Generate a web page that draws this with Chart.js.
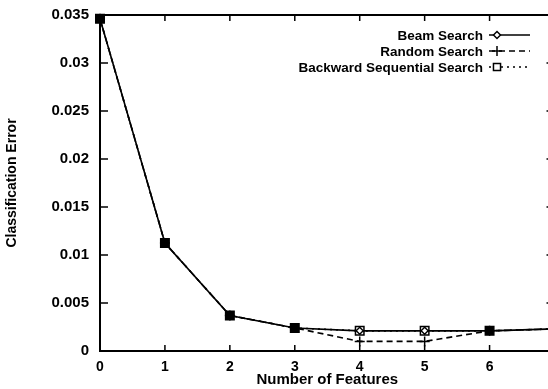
<!DOCTYPE html>
<html>
<head>
<meta charset="utf-8">
<script src="https://cdn.jsdelivr.net/npm/chart.js@4"></script>
<style>
  html, body { margin: 0; padding: 0; background: #fff; overflow: hidden; }
  body { width: 548px; height: 389px; }
  #wrap { width: 562px; height: 389px; }
</style>
</head>
<body>
<div id="wrap"><canvas id="errChart" width="562" height="389"></canvas></div>
<script>
const features = [0, 1, 2, 3, 4, 5, 6, 7];
const beamErr = [0.0346, 0.01125, 0.0037, 0.0024, 0.0021, 0.0021, 0.0021, 0.0023];
const randomErr = [0.0346, 0.01125, 0.0037, 0.0024, 0.0010, 0.0010, 0.0021, 0.0023];
const backwardErr = [0.0346, 0.01125, 0.0037, 0.0024, 0.0021, 0.0021, 0.0021, 0.0023];
const seriesNames = ['Beam Search', 'Random Search', 'Backward Sequential Search'];

const FONT = 'Liberation Sans, Arial, Helvetica, sans-serif';

function pts(values) {
    return features.map((f, i) => ({ x: f, y: values[i] }));
}

// where all three searches agree the markers pile up into a solid block
const pileFill = ctx => (randomErr[ctx.dataIndex] === backwardErr[ctx.dataIndex] ? '#000' : '#fff');

// fixed axis sizes, and no extra room kept for the end labels
function pinScale(size) {
    return s => {
        if (s.isHorizontal()) s.height = size; else s.width = size;
        s.paddingTop = s.paddingBottom = s.paddingLeft = s.paddingRight = 0;
    };
}

// gnuplot style: ticks point inward on all four sides, plus the frame
const frameTicks = {
    id: 'frameTicks',
    afterDraw(chart) {
        const { ctx, chartArea: a, scales } = chart;
        const len = 6;
        ctx.save();
        ctx.strokeStyle = '#000';
        ctx.lineWidth = 2;
        ctx.strokeRect(a.left, a.top, a.right - a.left, a.bottom - a.top);
        ctx.lineWidth = 1.5;
        ctx.beginPath();
        scales.x.ticks.forEach(t => {
            const px = scales.x.getPixelForValue(t.value);
            ctx.moveTo(px, a.bottom); ctx.lineTo(px, a.bottom - len);
            ctx.moveTo(px, a.top); ctx.lineTo(px, a.top + len);
        });
        scales.y.ticks.forEach(t => {
            const py = scales.y.getPixelForValue(t.value);
            ctx.moveTo(a.left, py); ctx.lineTo(a.left + len + 2, py);
            ctx.moveTo(a.right, py); ctx.lineTo(a.right - len - 2, py);
        });
        ctx.stroke();
        ctx.restore();
    }
};

// key in the top right corner, text right aligned with a line sample after it
const gnuKey = {
    id: 'gnuKey',
    afterDraw(chart) {
        const { ctx } = chart;
        const textRight = 483, x0 = 489, x1 = 530, mx = 497;
        const rows = [35, 51, 67];
        ctx.save();
        ctx.font = 'bold 13.5px ' + FONT;
        ctx.textAlign = 'right';
        ctx.textBaseline = 'middle';
        chart.data.datasets.forEach((ds, i) => {
            const y = rows[i];
            ctx.fillStyle = '#000';
            ctx.fillText(seriesNames[i], textRight, y + 1);
            ctx.strokeStyle = '#000';
            ctx.lineWidth = 1.5;
            ctx.setLineDash(ds.borderDash || []);
            ctx.beginPath();
            ctx.moveTo(x0, y); ctx.lineTo(x1, y);
            ctx.stroke();
            ctx.setLineDash([]);
            const r = ds.pointStyle === 'rect' ? 5 : ds.pointRadius;
            ctx.fillStyle = '#fff';
            Chart.helpers.drawPoint(ctx, { pointStyle: ds.pointStyle, radius: r, borderWidth: 1.5 }, mx, y);
        });
        ctx.restore();
    }
};

new Chart(document.getElementById('errChart'), {
    type: 'line',
    plugins: [frameTicks, gnuKey],
    data: {
        datasets: [
            {
                label: seriesNames[0],
                data: pts(beamErr),
                borderColor: '#000',
                borderWidth: 1.6,
                pointStyle: 'rectRot',
                pointRadius: 3.5,
                pointBorderWidth: 1.4,
                pointBorderColor: '#000',
                pointBackgroundColor: pileFill,
                order: 0,
                clip: false
            },
            {
                label: seriesNames[1],
                data: pts(randomErr),
                borderColor: '#000',
                borderWidth: 1.6,
                borderDash: [6, 4],
                pointStyle: 'cross',
                pointRadius: 5,
                pointBorderWidth: 1.5,
                pointBorderColor: '#000',
                order: 2,
                clip: false
            },
            {
                label: seriesNames[2],
                data: pts(backwardErr),
                borderColor: '#000',
                borderWidth: 1.6,
                borderDash: [2, 4],
                pointStyle: 'rect',
                pointRadius: 6,
                pointBorderWidth: 1.5,
                pointBorderColor: '#000',
                pointBackgroundColor: pileFill,
                order: 1,
                clip: false
            }
        ]
    },
    options: {
        responsive: false,
        animation: false,
        layout: { padding: { top: 15, right: 4, left: 0, bottom: 0 } },
        plugins: {
            legend: { display: false },
            tooltip: { enabled: false }
        },
        elements: { line: { tension: 0 } },
        scales: {
            x: {
                type: 'linear',
                min: 0,
                max: 7,
                afterFit: pinScale(38),
                grid: { display: false, drawTicks: false },
                border: { display: false },
                ticks: {
                    stepSize: 1,
                    padding: 8,
                    color: '#000',
                    font: { family: FONT, size: 14, weight: 'bold' }
                },
                title: {
                    display: true,
                    text: 'Number of Features',
                    color: '#000',
                    padding: { top: -1, bottom: 0 },
                    font: { family: FONT, size: 15, weight: 'bold' }
                }
            },
            y: {
                min: 0,
                max: 0.035,
                afterFit: pinScale(100),
                grid: { display: false, drawTicks: false },
                border: { display: false },
                ticks: {
                    stepSize: 0.005,
                    padding: 11,
                    color: '#000',
                    font: { family: FONT, size: 15, weight: 'bold' },
                    callback: v => String(+v.toFixed(3))
                },
                title: {
                    display: true,
                    text: 'Classification Error',
                    color: '#000',
                    padding: { top: 4, bottom: 0 },
                    font: { family: FONT, size: 14, weight: 'bold' }
                }
            }
        }
    }
});
</script>
</body>
</html>
